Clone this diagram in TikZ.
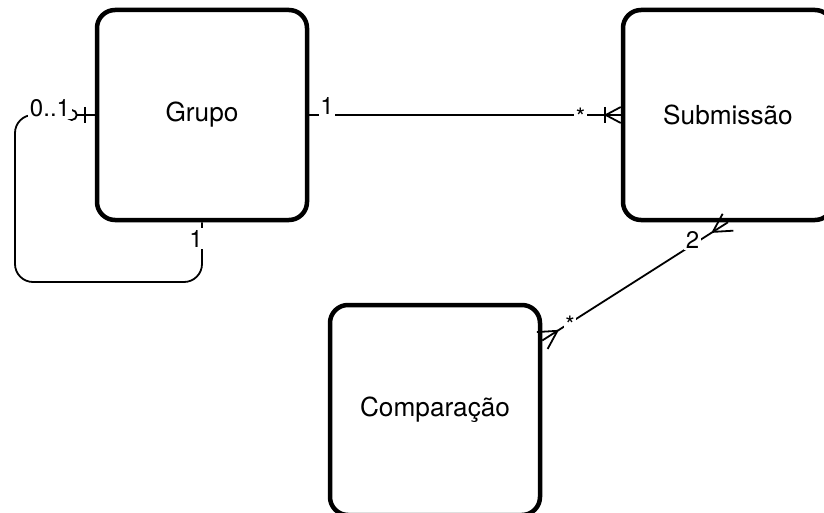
\documentclass[tikz,border=0pt]{standalone}
\usepackage{fontspec}
\setmainfont{TeX Gyre Heros}
\usetikzlibrary{calc}
\begin{document}
\begin{tikzpicture}[x=1pt,y=-1pt,
  entity/.style={draw, line width=4.5pt, rounded corners=18pt, minimum width=210pt, minimum height=210pt, inner sep=0pt, font=\fontsize{26.2}{30}\selectfont},
  conn/.style={line width=1.8pt},
  lbl/.style={fill=white, inner sep=1.5pt, font=\fontsize{24}{28}\selectfont}]
\useasboundingbox (0,0) rectangle (824,513);
\clip (0,0) rectangle (824,513);
\node[entity] (grupo) at (202,115) {Grupo};
\node[entity] (sub) at (728,115) {Submissão};
\node[entity] (comp) at (435,410) {Comparação};
% Grupo -- Submissao
\draw[conn] (grupo.east) -- (sub.west);
\draw[conn] ($(sub.west)+(0,-8)$) -- ($(sub.west)+(-15,0)$) -- ($(sub.west)+(0,8)$);
\draw[conn] ($(sub.west)+(-16,-8)$) -- ($(sub.west)+(-16,8)$);
% self loop
\draw[conn, rounded corners=18pt] (grupo.west) -- (15,115) -- (15,282) -- (202,282) -- (grupo.south);
\draw[conn] ($(grupo.west)+(-10,-8)$) -- ($(grupo.west)+(-10,8)$);
\draw[conn, fill=white] ($(grupo.west)+(-23,0)$) circle (5);
% Submissao -- Comparacao
\coordinate (cE) at ($(comp.north east)!0.176!(comp.south east)$);
\draw[conn] (sub.south) -- (cE);
\draw[conn] ($(sub.south)!10pt!90:(cE)$) -- ($(sub.south)!18pt!(cE)$) -- ($(sub.south)!10pt!-90:(cE)$);
\draw[conn] ($(cE)!10pt!90:(sub.south)$) -- ($(cE)!18pt!(sub.south)$) -- ($(cE)!10pt!-90:(sub.south)$);
% labels
\node[lbl, anchor=base] (m1) at (327,115) {1};
\node[lbl, anchor=base] (m2) at (580.5,126) {*};
\node[lbl, anchor=base] (m3) at (50,117) {0..1};
\node[lbl, anchor=base] (m4) at (196,247) {1};
\node[lbl, anchor=base] (m5) at (692.5,248) {2};
\node[lbl, anchor=base] (m6) at (570,333) {*};
\end{tikzpicture}
\end{document}
